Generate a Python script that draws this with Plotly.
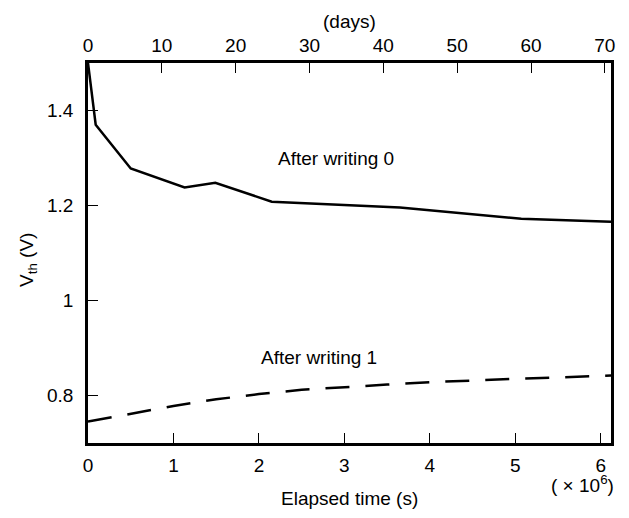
import plotly.graph_objects as go

# Data (elapsed time in units of 1e6 s, Vth in V)
t0 = [0.0, 0.09, 0.50, 1.13, 1.49, 2.15, 3.65, 5.07, 6.12]
v0 = [1.50, 1.370, 1.278, 1.238, 1.248, 1.208, 1.196, 1.172, 1.166]

t1 = [0.0, 0.5, 1.0, 1.5, 2.0, 2.5, 3.0, 3.5, 4.0, 4.5, 5.0, 5.5, 6.12]
v1 = [0.745, 0.762, 0.778, 0.792, 0.803, 0.812, 0.818, 0.823, 0.828, 0.832, 0.835, 0.838, 0.842]

xticks = [0, 1, 2, 3, 4, 5, 6]
dayticks = [0, 10, 20, 30, 40, 50, 60, 70]
yticks = [0.8, 1.0, 1.2, 1.4]
yticktext = ["0.8", "1", "1.2", "1.4"]

XMAX = 6.12
SEC_PER_DAY = 86400.0
days_max = XMAX * 1e6 / SEC_PER_DAY

FONT = "Liberation Sans, Arial, sans-serif"
FS = 19

fig = go.Figure()
fig.add_trace(go.Scatter(x=t0, y=v0, mode="lines",
                         line=dict(color="black", width=2.5), hoverinfo="skip"))
fig.add_trace(go.Scatter(x=t1, y=v1, mode="lines",
                         line=dict(color="black", width=2.5, dash="24px,16px"), hoverinfo="skip"))
# invisible trace to activate the top (days) axis
fig.add_trace(go.Scatter(x=[t * 1e6 / SEC_PER_DAY for t in t0], y=v0, xaxis="x2",
                         mode="lines", line=dict(color="rgba(0,0,0,0)"), hoverinfo="skip"))

axis_common = dict(showgrid=False, zeroline=False, showline=True, linecolor="black",
                   linewidth=2.5, ticks="inside", ticklen=10, tickwidth=1.3,
                   tickcolor="black", tickfont=dict(family=FONT, size=FS, color="black"))

fig.update_layout(
    width=629, height=518,
    margin=dict(l=80, r=26, t=55, b=83),
    paper_bgcolor="white", plot_bgcolor="white",
    showlegend=False,
    font=dict(family=FONT, size=FS, color="black"),
    xaxis=dict(range=[0, XMAX], tickvals=xticks, mirror=True,
               ticklabelstandoff=3, **axis_common),
    xaxis2=dict(range=[0, days_max], tickvals=dayticks, overlaying="x", side="top",
                ticklabelstandoff=1, **axis_common),
    yaxis=dict(range=[0.7, 1.5], tickvals=yticks, ticktext=yticktext, mirror=True,
               ticklabelstandoff=8, **axis_common),
    annotations=[
        dict(text="After writing 0", x=2.9, y=1.30, xref="x", yref="y",
             xanchor="center", yanchor="middle", showarrow=False, font=dict(size=FS)),
        dict(text="After writing 1", x=2.7, y=0.879, xref="x", yref="y",
             xanchor="center", yanchor="middle", showarrow=False, font=dict(size=FS)),
        dict(text="Elapsed time (s)", x=0.5, y=0, xref="paper", yref="paper",
             xanchor="center", yanchor="middle", yshift=-55, showarrow=False,
             font=dict(size=FS)),
        dict(text="( × 10<sup>6</sup>)", x=1.0, y=0, xref="paper", yref="paper",
             xanchor="right", yanchor="middle", xshift=5, yshift=-41, showarrow=False,
             font=dict(size=FS)),
        dict(text="(days)", x=0.5, y=1, xref="paper", yref="paper",
             xanchor="center", yanchor="middle", yshift=42, showarrow=False,
             font=dict(size=FS)),
        dict(text="V<sub>th</sub> (V)", x=0, y=0.5, xref="paper", yref="paper",
             xanchor="center", yanchor="middle", xshift=-60, yshift=-7, textangle=-90,
             showarrow=False, font=dict(size=FS)),
    ],
)

fig.write_html("out.html")
